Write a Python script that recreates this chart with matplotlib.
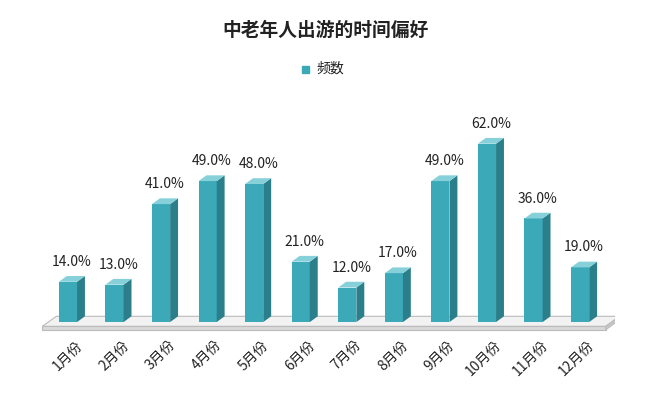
import matplotlib.pyplot as plt
from matplotlib.patches import Polygon

plt.rcParams['font.family'] = 'sans-serif'
plt.rcParams['font.sans-serif'] = ['Noto Sans CJK SC', 'Noto Sans CJK JP', 'Noto Sans CJK TC',
                                   'Noto Sans CJK KR', 'DejaVu Sans']

months = ['1月份', '2月份', '3月份', '4月份', '5月份', '6月份',
          '7月份', '8月份', '9月份', '10月份', '11月份', '12月份']
values = [14.0, 13.0, 41.0, 49.0, 48.0, 21.0, 12.0, 17.0, 49.0, 62.0, 36.0, 19.0]

front = '#3BA9B8'
side = '#2A7F8B'
top = '#86D0DA'

fig = plt.figure(figsize=(6.5, 4.07), dpi=100)
ax = fig.add_axes([40 / 650, 72 / 407, 575 / 650, 210 / 407])
ax.set_xlim(-0.6, 11.75)
ax.set_ylim(-3, 70)
ax.axis('off')

w = 0.39
dx, dy = 0.17, 2.0

# floor slab
ax.add_patch(Polygon([(-0.55, 0), (11.55, 0), (11.55 + 0.3, 3.5), (-0.55 + 0.3, 3.5)],
                     closed=True, facecolor='#F2F2F2', edgecolor='#BBBBBB', lw=0.8, zorder=1))
ax.add_patch(Polygon([(-0.55, 0), (11.55, 0), (11.55, -1.2), (-0.55, -1.2)],
                     closed=True, facecolor='#D9D9D9', edgecolor='#BBBBBB', lw=0.8, zorder=1))
ax.add_patch(Polygon([(11.55, 0), (11.85, 3.5), (11.85, 2.3), (11.55, -1.2)],
                     closed=True, facecolor='#C8C8C8', edgecolor='#BBBBBB', lw=0.8, zorder=1))

for i, v in enumerate(values):
    x0, x1 = i - w / 2, i + w / 2
    ax.bar(i, v, width=w, bottom=1.5, color=front, zorder=3)
    ax.add_patch(Polygon([(x1, 1.5), (x1 + dx, 1.5 + dy), (x1 + dx, v + 1.5 + dy), (x1, v + 1.5)],
                         closed=True, facecolor=side, edgecolor='none', zorder=3))
    ax.add_patch(Polygon([(x0, v + 1.5), (x1, v + 1.5), (x1 + dx, v + 1.5 + dy), (x0 + dx, v + 1.5 + dy)],
                         closed=True, facecolor=top, edgecolor='none', zorder=3))
    ax.text(i + dx / 2, v + 1.5 + dy + 2.5, f'{v:.1f}%', ha='center', va='bottom',
            fontsize=10, color='#222222')
    ax.text(i + 0.15, -4, months[i], rotation=45, ha='right', va='top', fontsize=10,
            color='#222222', rotation_mode='anchor')

fig.text(0.5, 0.925, '中老年人出游的时间偏好', ha='center', va='center',
         fontsize=13.5, fontweight='bold', color='#222222')
fig.patches.append(plt.Rectangle((302 / 650, 1 - 73 / 407), 7 / 650, 7 / 407,
                                 transform=fig.transFigure, color=front))
fig.text(316 / 650, 1 - 69 / 407, '频数', ha='left', va='center', fontsize=10, color='#222222')

fig.savefig('out.png', dpi=100)
